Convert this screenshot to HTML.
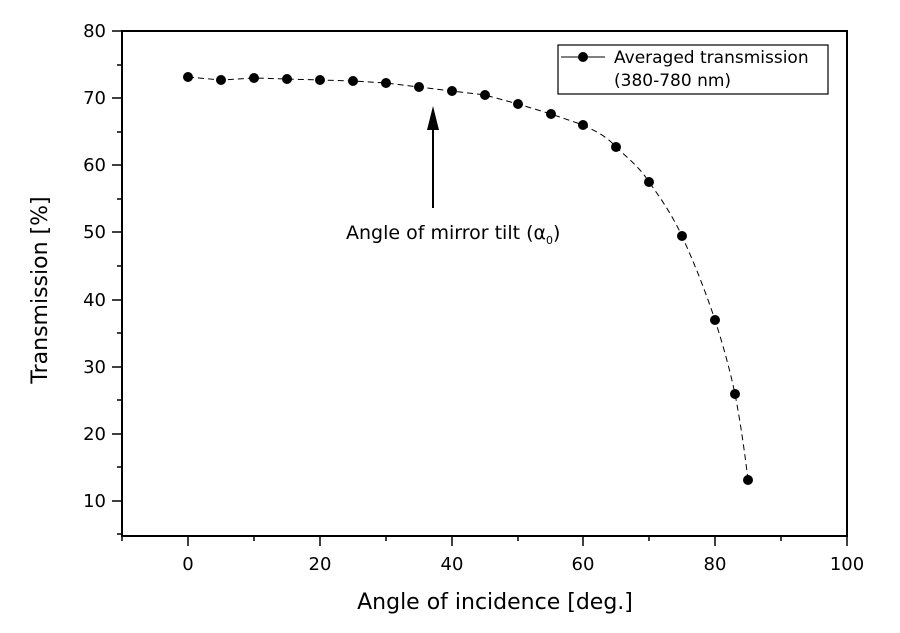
<!DOCTYPE html>
<html><head><style>body{margin:0;background:#fff}</style></head><body>
<svg width="900" height="628" xmlns="http://www.w3.org/2000/svg" font-family="DejaVu Sans, Liberation Sans, sans-serif">
<rect width="900" height="628" fill="#fff"/>
<rect x="122" y="31" width="725" height="505" fill="none" stroke="#000" stroke-width="2"/>
<g stroke="#000" stroke-width="1.5">
<line x1="188" y1="536" x2="188" y2="546"/><line x1="320" y1="536" x2="320" y2="546"/><line x1="452" y1="536" x2="452" y2="546"/><line x1="583" y1="536" x2="583" y2="546"/><line x1="715" y1="536" x2="715" y2="546"/><line x1="847" y1="536" x2="847" y2="546"/>
<line x1="122" y1="536" x2="122" y2="541"/><line x1="254" y1="536" x2="254" y2="541"/><line x1="386" y1="536" x2="386" y2="541"/><line x1="518" y1="536" x2="518" y2="541"/><line x1="649" y1="536" x2="649" y2="541"/><line x1="781" y1="536" x2="781" y2="541"/>
<line x1="112" y1="31" x2="122" y2="31"/><line x1="112" y1="98" x2="122" y2="98"/><line x1="112" y1="165" x2="122" y2="165"/><line x1="112" y1="232" x2="122" y2="232"/><line x1="112" y1="300" x2="122" y2="300"/><line x1="112" y1="367" x2="122" y2="367"/><line x1="112" y1="434" x2="122" y2="434"/><line x1="112" y1="501" x2="122" y2="501"/>
<line x1="117" y1="65" x2="122" y2="65"/><line x1="117" y1="132" x2="122" y2="132"/><line x1="117" y1="199" x2="122" y2="199"/><line x1="117" y1="266" x2="122" y2="266"/><line x1="117" y1="333" x2="122" y2="333"/><line x1="117" y1="400" x2="122" y2="400"/><line x1="117" y1="467" x2="122" y2="467"/><line x1="117" y1="534" x2="122" y2="534"/>
</g>
<g font-size="18" text-anchor="middle">
<text x="188" y="570">0</text><text x="320" y="570">20</text><text x="452" y="570">40</text><text x="583" y="570">60</text><text x="715" y="570">80</text><text x="847" y="570">100</text>
</g>
<g font-size="18" text-anchor="end">
<text x="106" y="37">80</text><text x="106" y="104">70</text><text x="106" y="171">60</text><text x="106" y="238">50</text><text x="106" y="306">40</text><text x="106" y="373">30</text><text x="106" y="440">20</text><text x="106" y="507">10</text>
</g>
<text x="495" y="609" font-size="22" text-anchor="middle">Angle of incidence [deg.]</text>
<text transform="translate(47,290) rotate(-90)" font-size="22" text-anchor="middle">Transmission [%]</text>
<path fill="none" stroke="#000" stroke-width="1" stroke-dasharray="6,4" d="M188,77 L221,80 L254,78 L287,79 L320,80 L353,81 L386,83 L419,87 L452,91 L485,95 L518,104 L551,114 L583,125 C600,133 608,138 616,147 C630,160 640,168 649,182 C662,200 672,215 682,236 C695,265 705,290 715,320 C723,345 730,370 735,394 C741,425 745,455 748,480"/>
<g fill="#000">
<circle cx="188" cy="77" r="5"/><circle cx="221" cy="80" r="5"/><circle cx="254" cy="78" r="5"/><circle cx="287" cy="79" r="5"/><circle cx="320" cy="80" r="5"/><circle cx="353" cy="81" r="5"/><circle cx="386" cy="83" r="5"/><circle cx="419" cy="87" r="5"/><circle cx="452" cy="91" r="5"/><circle cx="485" cy="95" r="5"/><circle cx="518" cy="104" r="5"/><circle cx="551" cy="114" r="5"/><circle cx="583" cy="125" r="5"/><circle cx="616" cy="147" r="5"/><circle cx="649" cy="182" r="5"/><circle cx="682" cy="236" r="5"/><circle cx="715" cy="320" r="5"/><circle cx="735" cy="394" r="5"/><circle cx="748" cy="480" r="5"/>
</g>
<line x1="433" y1="208" x2="433" y2="125" stroke="#000" stroke-width="2"/>
<polygon points="433,106 427,130 439,130" fill="#000"/>
<text x="346" y="239" font-size="19">Angle of mirror tilt (α<tspan font-size="11" dy="5">0</tspan><tspan dy="-5">)</tspan></text>
<rect x="558" y="45" width="270" height="49" fill="#fff" stroke="#000" stroke-width="1.2"/>
<line x1="561" y1="57" x2="605" y2="57" stroke="#000" stroke-width="1"/>
<circle cx="583" cy="57" r="5" fill="#000"/>
<text x="614" y="63" font-size="17">Averaged transmission</text>
<text x="614" y="86" font-size="17">(380-780 nm)</text>
</svg>
</body></html>
